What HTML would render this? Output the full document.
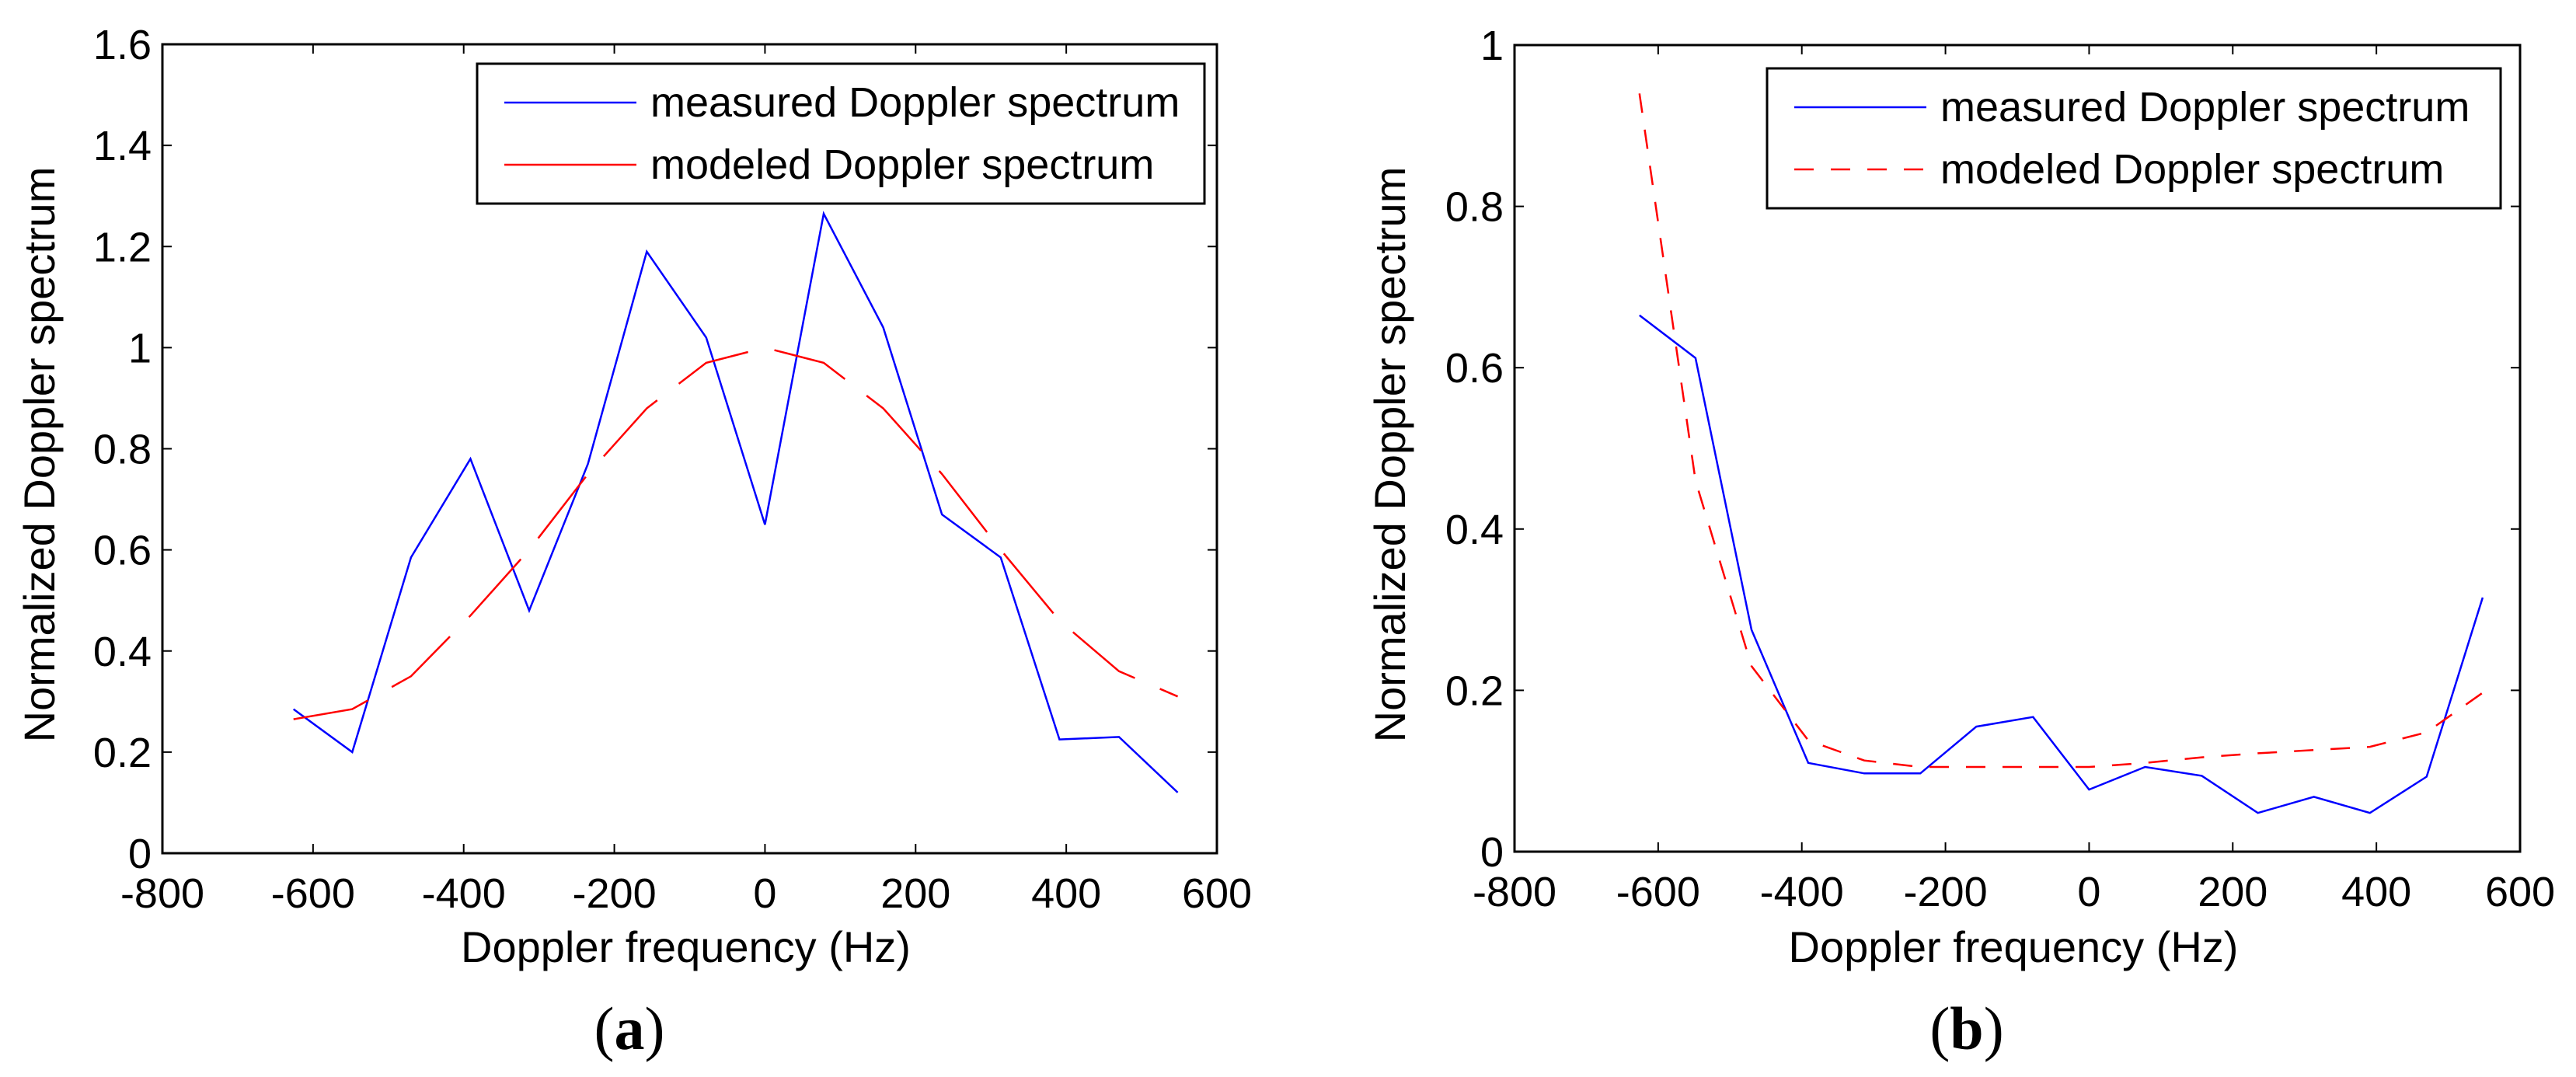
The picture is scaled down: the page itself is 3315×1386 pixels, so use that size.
<!DOCTYPE html>
<html><head><meta charset="utf-8"><style>
html,body{margin:0;padding:0;background:#fff;}
svg{display:block;font-family:"Liberation Sans",sans-serif;}
</style></head><body>
<svg id="fig" width="3315" height="1386" viewBox="0 0 3315 1386" xmlns="http://www.w3.org/2000/svg"></svg>
<script>
const freqs = [-626,-548,-470,-391,-313,-235,-157,-78,0,78,157,235,313,391,470,548];
const measuredA = [0.285,0.20,0.585,0.78,0.48,0.77,1.19,1.02,0.65,1.265,1.04,0.67,0.585,0.225,0.23,0.12];
const modeledA = [0.265,0.285,0.35,0.47,0.60,0.75,0.88,0.97,1.0,0.97,0.88,0.75,0.60,0.46,0.36,0.31];
const measuredB = [0.665,0.612,0.275,0.11,0.097,0.097,0.155,0.167,0.077,0.105,0.094,0.048,0.068,0.048,0.093,0.315];
const modeledB = [0.94,0.46,0.23,0.138,0.113,0.105,0.105,0.105,0.105,0.11,0.117,0.122,0.126,0.13,0.148,0.197];
const xTicks = [-800,-600,-400,-200,0,200,400,600];
const yTicksA = [0,0.2,0.4,0.6,0.8,1,1.2,1.4,1.6];
const yTicksB = [0,0.2,0.4,0.6,0.8,1];

const NS="http://www.w3.org/2000/svg";
const svg=document.getElementById('fig');
function mk(tag,attrs,parent){const e=document.createElementNS(NS,tag);for(const k in attrs)e.setAttribute(k,attrs[k]);(parent||svg).appendChild(e);return e;}

function panel(p){
  const g=mk('g',{});
  
  
  const sx=v=>p.l+(v-(-800))/1400*(p.r-p.l);
  const sy=v=>p.b-(v-0)/p.ymax*(p.b-p.t);
  // ticks
  xTicks.forEach(v=>{
    const x=sx(v);
    mk('line',{x1:x,y1:p.b,x2:x,y2:p.b-12,stroke:'#000','stroke-width':2},g);
    mk('line',{x1:x,y1:p.t,x2:x,y2:p.t+12,stroke:'#000','stroke-width':2},g);
    const t=mk('text',{x:x,y:p.b+70,'font-size':54,'text-anchor':'middle',fill:'#000'},g);
    t.textContent=String(v);
    
    
  });
  p.yt.forEach(v=>{
    const y=sy(v);
    mk('line',{x1:p.l,y1:y,x2:p.l+12,y2:y,stroke:'#000','stroke-width':2},g);
    mk('line',{x1:p.r,y1:y,x2:p.r-12,y2:y,stroke:'#000','stroke-width':2},g);
    const t=mk('text',{x:p.l-14,y:y+19,'font-size':54,'text-anchor':'end',fill:'#000'},g);
    t.textContent=String(v);
    
    
  });
  // series
  const pts=a=>a.map((v,i)=>sx(freqs[i]).toFixed(1)+','+sy(v).toFixed(1)).join(' ');
  const m=mk('polyline',{points:pts(p.meas),fill:'none',stroke:'#0000ff','stroke-width':2.5},g);
  
  
  const d=mk('polyline',{points:pts(p.mod),fill:'none',stroke:'#ff0000','stroke-width':2.5,'stroke-dasharray':p.dash},g);
  
  
  // box
  const box=mk('rect',{x:p.l,y:p.t,width:p.r-p.l,height:p.b-p.t,fill:'none',stroke:'#000','stroke-width':3},g);
  
  
  // legend
  const lg=mk('g',{},g);
  
  
  mk('rect',{x:p.lg[0],y:p.lg[1],width:p.lg[2]-p.lg[0],height:p.lg[3]-p.lg[1],fill:'#fff',stroke:'#000','stroke-width':3},lg);
  const r1=p.lg[1]+50, r2=p.lg[1]+130;
  mk('line',{x1:p.lg[0]+35,y1:r1,x2:p.lg[0]+205,y2:r1,stroke:'#0000ff','stroke-width':2.5},lg);
  mk('line',{x1:p.lg[0]+35,y1:r2,x2:p.lg[0]+205,y2:r2,stroke:'#ff0000','stroke-width':2.5,'stroke-dasharray':p.ldash},lg);
  const t1=mk('text',{x:p.lg[0]+223,y:r1+18,'font-size':54,fill:'#000'},lg);
  t1.textContent='measured Doppler spectrum';
  
  
  const t2=mk('text',{x:p.lg[0]+223,y:r2+18,'font-size':54,fill:'#000'},lg);
  t2.textContent='modeled Doppler spectrum';
  
  
  // axis titles
  const xt=mk('text',{x:(p.l+p.r)/2-5,y:1238,'font-size':56,'text-anchor':'middle',fill:'#000'},g);
  xt.textContent='Doppler frequency (Hz)';
  
  
  const yt=mk('text',{x:0,y:0,'font-size':56,'text-anchor':'middle',fill:'#000',transform:'translate('+(p.yx)+',585) rotate(-90)'},g);
  yt.textContent='Normalized Doppler spectrum';
  
  
  const cap=mk('text',{x:p.cx,y:1350,'font-size':78,'text-anchor':'middle',fill:'#000','font-family':'Liberation Serif, serif'},g);
  const b1=document.createElementNS(NS,'tspan');b1.textContent='(';cap.appendChild(b1);
  const b2=document.createElementNS(NS,'tspan');b2.setAttribute('font-weight','bold');b2.textContent=p.cap;cap.appendChild(b2);
  const b3=document.createElementNS(NS,'tspan');b3.textContent=')';cap.appendChild(b3);
  
  
}
panel({name:'panel-a',l:209,r:1566,t:57,b:1098,ymax:1.6,yt:yTicksA,meas:measuredA,mod:modeledA,dash:'100 35',ldash:'140 0',lg:[614,82,1550,262],yx:70,cx:810,cap:'a'});
panel({name:'panel-b',l:1949,r:3243,t:58,b:1096,ymax:1,yt:yTicksB,meas:measuredB,mod:modeledB,dash:'25 22',ldash:'25 22',lg:[2274,88,3218,268],yx:1808,cx:2531,cap:'b'});
</script>
</body></html>
